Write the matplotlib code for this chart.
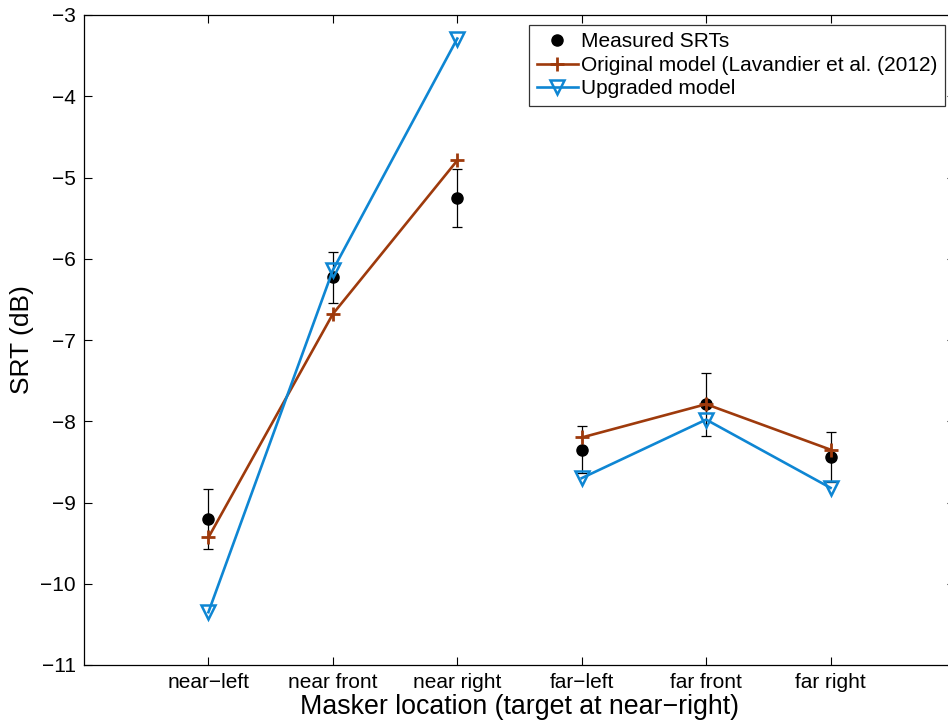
import numpy as np
import matplotlib
matplotlib.use("Agg")
import matplotlib.pyplot as plt

plt.rcParams['font.family'] = ['Liberation Sans', 'DejaVu Sans']

# masker locations (target at near-right)
locations = ["near\u2212left", "near front", "near right", "far\u2212left", "far front", "far right"]
measured = [-9.20, -6.23, -5.25, -8.35, -7.79, -8.44]
measured_err = [0.37, 0.31, 0.36, 0.29, 0.39, 0.31]
original = [-9.43, -6.68, -4.79, -8.20, -7.79, -8.35]
upgraded = [-10.35, -6.14, -3.29, -8.70, -7.98, -8.82]

c_orig = '#9E3A0C'
c_upg = '#0E86D3'

fig = plt.figure(figsize=(9.48, 7.22), dpi=100)
ax = fig.add_axes([84/948, 1-665/722, (955-84)/948, (665-15)/722])

x = np.arange(1, len(locations)+1)
near = slice(0, 3)
far = slice(3, 6)

ax.errorbar(x, measured, yerr=measured_err, fmt='none', ecolor='k',
            elinewidth=0.9, capsize=3.5, capthick=0.9, zorder=2)
ax.plot(x, measured, 'o', color='k', markersize=8, linestyle='none',
        zorder=3, label='Measured SRTs')
for k, sl in enumerate([near, far]):
    ax.plot(x[sl], original[sl], '-+', color=c_orig, lw=1.9, markersize=10,
            mew=2, zorder=4, label='Original model (Lavandier et al. (2012)' if k == 0 else None)
for k, sl in enumerate([near, far]):
    ax.plot(x[sl], upgraded[sl], '-v', color=c_upg, lw=1.9, markersize=10,
            mew=1.8, mfc='none', zorder=5, label='Upgraded model' if k == 0 else None)

ax.set_xlim(0, 7)
ax.set_ylim(-11, -3)
ax.set_xticks(x)
ax.set_xticklabels(locations, fontsize=15)
ax.set_yticks(np.arange(-11, -2, 1))
ax.tick_params(axis='y', labelsize=15)
ax.tick_params(direction='in', length=6, width=0.8, top=True, right=True, pad=6)
for s in ax.spines.values():
    s.set_linewidth(0.9)

ax.set_xlabel("Masker location (target at near\u2212right)", fontsize=19.3, labelpad=1)
ax.set_ylabel("SRT (dB)", fontsize=19, labelpad=4)

leg = ax.legend(loc='upper right', bbox_to_anchor=(945/948, 1-25/722),
                bbox_transform=fig.transFigure, borderaxespad=0, fontsize=15,
                frameon=True, fancybox=False, edgecolor='k', handlelength=2.0,
                handletextpad=0.15, borderpad=0.35, labelspacing=0.22)
leg.get_frame().set_linewidth(0.9)

fig.savefig("out.png", dpi=100)
